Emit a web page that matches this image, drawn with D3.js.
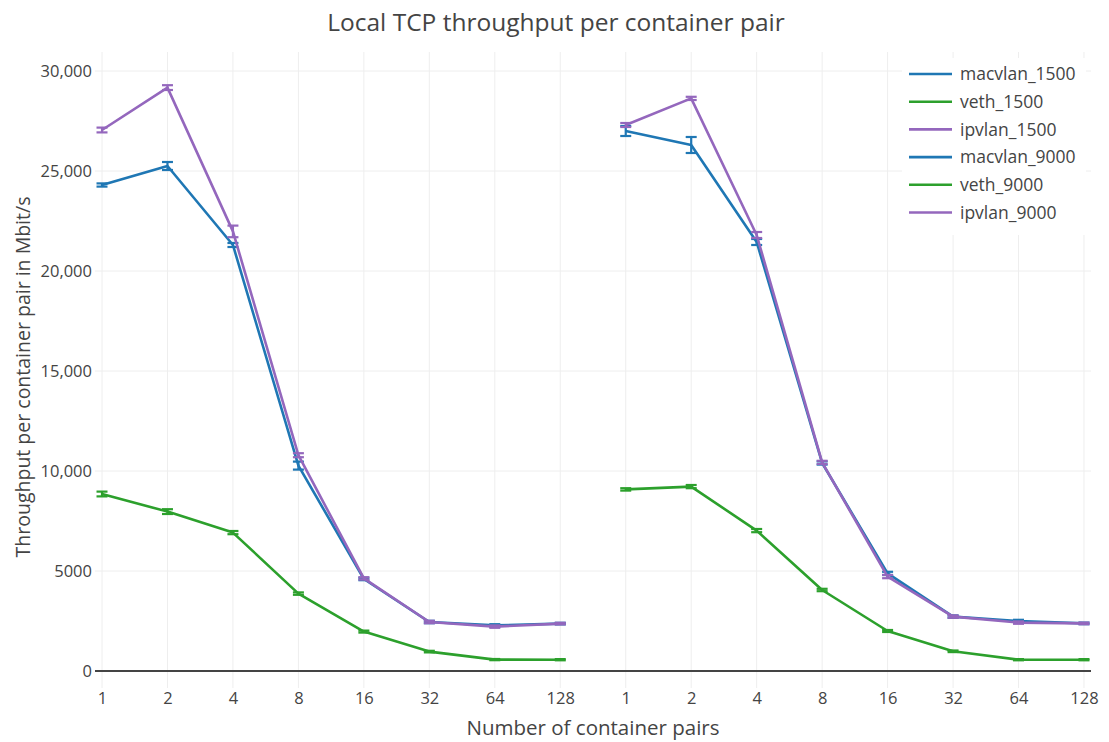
<!DOCTYPE html>
<html>
<head>
<meta charset="utf-8">
<script src="https://cdn.jsdelivr.net/npm/d3@7"></script>
<style>
  body { margin: 0; background: #fff; }
  svg { font-family: "Open Sans", sans-serif; }
</style>
</head>
<body>
<div id="chart"></div>
<script>
// categories (container pairs), repeated for each MTU block
const pairs = ["1", "2", "4", "8", "16", "32", "64", "128"];
const mtus = ["1500", "9000"];

// series values (Mbit/s) and error half-widths
const macvlan1500 = [24300, 25250, 21300, 10270, 4600, 2450, 2280, 2370];
const macvlan1500Err = [80, 200, 100, 200, 60, 60, 60, 40];
const veth1500 = [8850, 7970, 6920, 3870, 1970, 970, 570, 565];
const veth1500Err = [120, 120, 80, 60, 50, 40, 30, 30];
const ipvlan1500 = [27050, 29170, 21980, 10790, 4630, 2450, 2220, 2370];
const ipvlan1500Err = [120, 120, 290, 100, 60, 60, 60, 40];
const macvlan9000 = [27000, 26300, 21450, 10400, 4880, 2720, 2500, 2380];
const macvlan9000Err = [250, 400, 150, 80, 80, 60, 60, 40];
const veth9000 = [9080, 9220, 7020, 4050, 2000, 985, 565, 565];
const veth9000Err = [60, 80, 80, 60, 50, 40, 30, 30];
const ipvlan9000 = [27300, 28630, 21800, 10430, 4720, 2720, 2420, 2380];
const ipvlan9000Err = [100, 80, 150, 80, 80, 60, 60, 40];

const yTicks = [0, 5000, 10000, 15000, 20000, 25000, 30000];
const yTickLabels = ["0", "5000", "10,000", "15,000", "20,000", "25,000", "30,000"];

const series = [
  { name: "macvlan_1500", mtu: "1500", values: macvlan1500, err: macvlan1500Err, color: "#1f77b4" },
  { name: "veth_1500", mtu: "1500", values: veth1500, err: veth1500Err, color: "#2ca02c" },
  { name: "ipvlan_1500", mtu: "1500", values: ipvlan1500, err: ipvlan1500Err, color: "#9467bd" },
  { name: "macvlan_9000", mtu: "9000", values: macvlan9000, err: macvlan9000Err, color: "#1f77b4" },
  { name: "veth_9000", mtu: "9000", values: veth9000, err: veth9000Err, color: "#2ca02c" },
  { name: "ipvlan_9000", mtu: "9000", values: ipvlan9000, err: ipvlan9000Err, color: "#9467bd" },
];

const width = 1109, height = 742;
const plot = { left: 95, right: 1091, top: 52, bottom: 688 };
const tickFont = "16.5px";

const keys = mtus.flatMap(m => pairs.map(p => m + "|" + p));

const x = d3.scalePoint()
  .domain(keys)
  .range([plot.left, plot.right])
  .padding(0.107);

const y = d3.scaleLinear()
  .domain([-850, 30950])
  .range([plot.bottom, plot.top]);

const svg = d3.select("#chart").append("svg")
  .attr("width", width)
  .attr("height", height);

// grid
svg.append("g")
  .selectAll("line")
  .data(keys)
  .join("line")
  .attr("x1", d => x(d)).attr("x2", d => x(d))
  .attr("y1", plot.top).attr("y2", plot.bottom)
  .attr("stroke", "#eee");

svg.append("g")
  .selectAll("line")
  .data(yTicks.filter(d => d > 0))
  .join("line")
  .attr("x1", plot.left).attr("x2", plot.right)
  .attr("y1", d => y(d)).attr("y2", d => y(d))
  .attr("stroke", "#eee");

// zero line
svg.append("line")
  .attr("x1", plot.left).attr("x2", plot.right)
  .attr("y1", y(0)).attr("y2", y(0))
  .attr("stroke", "#444")
  .attr("stroke-width", 2);

// y axis
const yAxis = d3.axisLeft(y)
  .tickValues(yTicks)
  .tickFormat((d, i) => yTickLabels[i])
  .tickSize(0)
  .tickPadding(0);

svg.append("g")
  .attr("transform", `translate(${plot.left - 3},0)`)
  .call(yAxis)
  .call(g => g.select(".domain").remove())
  .call(g => g.selectAll("text")
    .attr("fill", "#444")
    .style("font-size", tickFont)
    .style("font-family", "'Open Sans', sans-serif"));

// x axis
const xAxis = d3.axisBottom(x)
  .tickFormat(d => d.split("|")[1])
  .tickSize(0)
  .tickPadding(4);

svg.append("g")
  .attr("transform", `translate(0,${plot.bottom})`)
  .call(xAxis)
  .call(g => g.select(".domain").remove())
  .call(g => g.selectAll("text")
    .attr("fill", "#444")
    .style("font-size", tickFont)
    .style("font-family", "'Open Sans', sans-serif"));

// lines and error bars
const line = d3.line()
  .x(d => x(d.key))
  .y(d => y(d.value));

series.forEach(s => {
  const pts = s.values.map((v, i) => ({ key: s.mtu + "|" + pairs[i], value: v, err: s.err[i] }));
  const g = svg.append("g");

  const eb = g.selectAll(".err")
    .data(pts)
    .join("g")
    .attr("stroke", s.color)
    .attr("stroke-width", 2.2);
  eb.append("line")
    .attr("x1", d => x(d.key)).attr("x2", d => x(d.key))
    .attr("y1", d => y(d.value - d.err)).attr("y2", d => y(d.value + d.err));
  eb.append("line")
    .attr("x1", d => x(d.key) - 5.5).attr("x2", d => x(d.key) + 5.5)
    .attr("y1", d => y(d.value + d.err)).attr("y2", d => y(d.value + d.err));
  eb.append("line")
    .attr("x1", d => x(d.key) - 5.5).attr("x2", d => x(d.key) + 5.5)
    .attr("y1", d => y(d.value - d.err)).attr("y2", d => y(d.value - d.err));

  g.append("path")
    .datum(pts)
    .attr("fill", "none")
    .attr("stroke", s.color)
    .attr("stroke-width", 2.6)
    .attr("stroke-linejoin", "round")
    .attr("d", line);
});

// legend
const legend = svg.append("g");
legend.append("rect")
  .attr("x", 902).attr("y", 58)
  .attr("width", 184).attr("height", 177)
  .attr("fill", "#fff");

const item = legend.selectAll(".item")
  .data(series)
  .join("g")
  .attr("transform", (d, i) => `translate(909,${74 + i * 27.7})`);

item.append("line")
  .attr("x1", 0).attr("x2", 43)
  .attr("stroke", d => d.color)
  .attr("stroke-width", 2.6);

item.append("text")
  .attr("x", 51)
  .attr("dy", "0.35em")
  .attr("fill", "#444")
  .style("font-size", "17.5px")
  .text(d => d.name);

// titles
svg.append("text")
  .attr("x", 556).attr("y", 31)
  .attr("text-anchor", "middle")
  .attr("fill", "#444")
  .style("font-size", "24.5px")
  .text("Local TCP throughput per container pair");

svg.append("text")
  .attr("x", 593).attr("y", 735)
  .attr("text-anchor", "middle")
  .attr("fill", "#444")
  .style("font-size", "20.5px")
  .text("Number of container pairs");

svg.append("text")
  .attr("transform", "translate(30,377) rotate(-90)")
  .attr("text-anchor", "middle")
  .attr("fill", "#444")
  .style("font-size", "19.5px")
  .text("Throughput per container pair in Mbit/s");
</script>
</body>
</html>
